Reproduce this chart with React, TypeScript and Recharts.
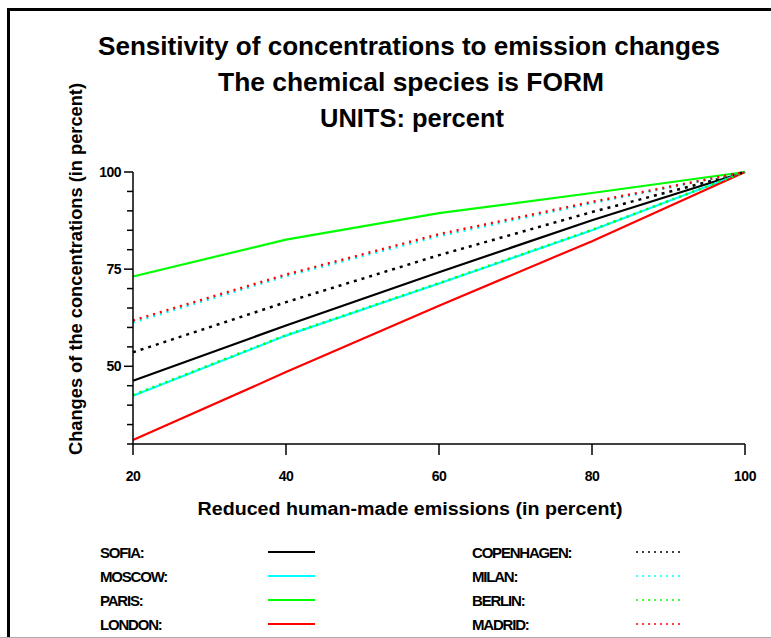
import { LineChart, Line, XAxis, YAxis } from 'recharts'

// x positions (reduction in emissions, %)
const reductions = [20, 40, 60, 80, 100]

// concentrations relative to base (%)
const sofia = [46.3, 60.5, 74.2, 87.6, 100]
const moscow = [42.4, 57.9, 71.3, 85.0, 100]
const paris = [73.1, 82.6, 89.4, 94.6, 100]
const london = [31.0, 48.5, 65.6, 82.2, 100]
const copenhagen = [53.6, 66.5, 78.6, 89.7, 100]
const milan = [61.3, 73.2, 83.5, 92.0, 100]
const berlin = [42.6, 58.0, 71.4, 85.1, 100]
const madrid = [61.8, 73.6, 84.0, 92.3, 100]

const xTicks = [20, 40, 60, 80, 100]
const yTicks = [30, 35, 40, 45, 50, 55, 60, 65, 70, 75, 80, 85, 90, 95, 100]
const yLabelled = [50, 75, 100]

const titleLines = [
  'Sensitivity of concentrations to emission changes',
  'The chemical species is FORM',
  'UNITS: percent',
]

type Series = { key: string; name: string; color: string; values: number[]; dash?: string }

const seriesList: Series[] = [
  { key: 'sofia', name: 'SOFIA:', color: '#000000', values: sofia },
  { key: 'moscow', name: 'MOSCOW:', color: '#00ffff', values: moscow },
  { key: 'paris', name: 'PARIS:', color: '#00ff00', values: paris },
  { key: 'london', name: 'LONDON:', color: '#ff0000', values: london },
  { key: 'copenhagen', name: 'COPENHAGEN:', color: '#000000', values: copenhagen, dash: '3 5' },
  { key: 'milan', name: 'MILAN:', color: '#00ffff', values: milan, dash: '2 5' },
  { key: 'berlin', name: 'BERLIN:', color: '#00ff00', values: berlin, dash: '2 5' },
  { key: 'madrid', name: 'MADRID:', color: '#ff0000', values: madrid, dash: '2 5' },
]

const data = reductions.map((x, i) => {
  const row: Record<string, number> = { x }
  seriesList.forEach(s => { row[s.key] = s.values[i] })
  return row
})

const FONT = '"Liberation Sans", Arial, sans-serif'

const YTick = (props: any) => {
  const { x, y, payload } = props
  const major = yLabelled.includes(payload.value)
  return (
    <g>
      <line x1={x - (major ? 9 : 6)} x2={x} y1={y} y2={y} stroke="#000" strokeWidth={1.5} />
      {major && (
        <text x={x - 12} y={y} dy={5} textAnchor="end" fontFamily={FONT} fontWeight="bold" fontSize={14} letterSpacing={-0.5} fill="#000">
          {payload.value}
        </text>
      )}
    </g>
  )
}

function LegendBlock() {
  const left = seriesList.filter(s => !s.dash)
  const right = seriesList.filter(s => s.dash)
  const row = (s: Series, i: number, lx: number, sx: number) => (
    <g key={s.key}>
      <text x={lx} y={558 + i * 24} fontFamily={FONT} fontWeight="bold" fontSize={15} letterSpacing={-1.2} fill="#000">
        {s.name}
      </text>
      <line x1={sx} x2={sx + 47} y1={552 + i * 24} y2={552 + i * 24} stroke={s.color} strokeWidth={s.dash ? 1.5 : 2} strokeDasharray={s.dash ? '2 4' : undefined} />
    </g>
  )
  return (
    <g>
      {left.map((s, i) => row(s, i, 100, 268))}
      {right.map((s, i) => row(s, i, 472, 636))}
    </g>
  )
}

export default function App() {
  return (
    <div style={{ position: 'fixed', left: 0, top: 0, width: 771, height: 638, background: '#fff', overflow: 'hidden' }}>
      <LineChart width={771} height={638} data={data} margin={{ top: 172, right: 26, bottom: 154, left: 73 }}>
        <XAxis
          dataKey="x"
          type="number"
          domain={[20, 100]}
          ticks={xTicks}
          axisLine={{ stroke: '#000', strokeWidth: 1.5 }}
          tickLine={{ stroke: '#000', strokeWidth: 1.5 }}
          tickSize={11}
          tickMargin={16}
          height={40}
          tick={{ fill: '#000', fontSize: 14, fontWeight: 'bold', fontFamily: FONT, letterSpacing: -0.5 }}
        />
        <YAxis
          type="number"
          domain={[30, 100]}
          ticks={yTicks}
          interval={0}
          width={60}
          axisLine={{ stroke: '#000', strokeWidth: 1.5 }}
          tickLine={false}
          tickSize={0}
          tickMargin={0}
          tick={<YTick />}
        />
        {seriesList.map(s => (
          <Line
            key={s.key}
            dataKey={s.key}
            name={s.name}
            type="linear"
            stroke={s.color}
            strokeWidth={s.dash ? 2.5 : 2.2}
            strokeDasharray={s.dash}
            dot={false}
            isAnimationActive={false}
          />
        ))}
      </LineChart>
      <svg width={771} height={638} style={{ position: 'absolute', left: 0, top: 0, pointerEvents: 'none' }}>
        <line x1={8.5} x2={8.5} y1={8} y2={638} stroke="#000" strokeWidth={3} />
        <line x1={7} x2={771} y1={9.5} y2={9.5} stroke="#000" strokeWidth={3} />
        <line x1={0} x2={771} y1={637.5} y2={637.5} stroke="#aaa" strokeWidth={1} />
        <text x={409} y={55} textAnchor="middle" fontFamily={FONT} fontWeight="bold" fontSize={26} textLength={622} lengthAdjust="spacingAndGlyphs" fill="#000">{titleLines[0]}</text>
        <text x={411} y={91} textAnchor="middle" fontFamily={FONT} fontWeight="bold" fontSize={26} textLength={386} lengthAdjust="spacingAndGlyphs" fill="#000">{titleLines[1]}</text>
        <text x={412} y={127} textAnchor="middle" fontFamily={FONT} fontWeight="bold" fontSize={26} textLength={184} lengthAdjust="spacingAndGlyphs" fill="#000">{titleLines[2]}</text>
        <text x={410} y={515} textAnchor="middle" fontFamily={FONT} fontWeight="bold" fontSize={18} textLength={425} lengthAdjust="spacingAndGlyphs" fill="#000">Reduced human-made emissions (in percent)</text>
        <text x={82} y={269} transform="rotate(-90 82 269)" textAnchor="middle" fontFamily={FONT} fontWeight="bold" fontSize={18} textLength={372} lengthAdjust="spacingAndGlyphs" fill="#000">Changes of the concentrations (in percent)</text>
        <LegendBlock />
      </svg>
    </div>
  )
}
